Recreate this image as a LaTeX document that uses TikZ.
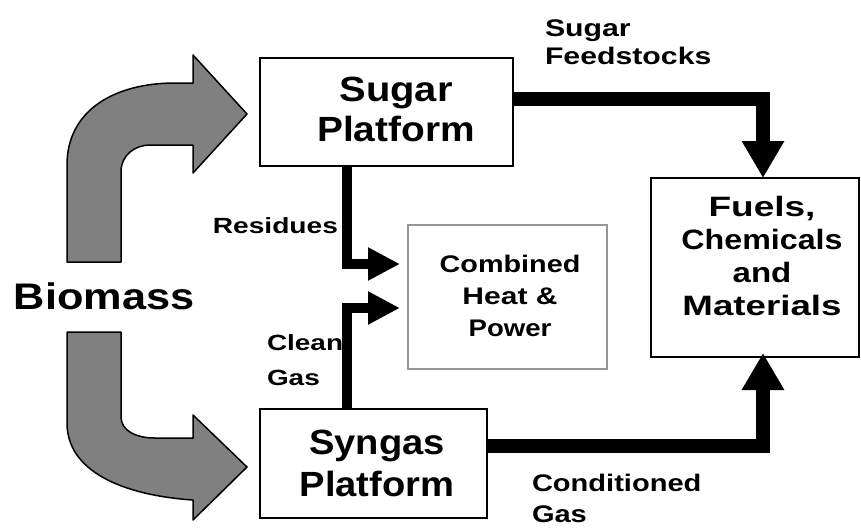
\documentclass[tikz,border=0pt]{standalone}
\usepackage{fontspec}
\setmainfont{Liberation Sans}
\usetikzlibrary{arrows.meta}
\newcommand\myws[2]{\scalebox{#1}[1]{#2}}
\definecolor{arrowgray}{RGB}{128,128,128}
\definecolor{chpgray}{RGB}{150,150,150}
\begin{document}
\begin{tikzpicture}[x=1pt,y=-1pt,
  box/.style={draw=black, line width=1.5pt, fill=white, inner sep=0pt, outer sep=0pt},
  chpbox/.style={draw=chpgray, line width=1.5pt, fill=white, inner sep=0pt, outer sep=0pt},
  txt/.style={inner sep=0pt, outer sep=0pt, align=center},
  ltxt/.style={inner sep=0pt, outer sep=0pt, align=left},
  curvearrow/.style={fill=arrowgray, draw=black, line width=1.5pt, line join=round},
  bigarrow/.style={line width=14pt, line join=miter, -{Triangle[length=37pt 0 0, width=40pt 0 0]}},
  midarrow/.style={line width=10pt, line join=miter, -{Triangle[length=32pt 0 0, width=31pt 0 0]}}
]
\useasboundingbox (0,0) rectangle (861,528);

% boxes
\node[box, minimum width=253pt, minimum height=108pt] (sugar) at (386.5,112) {};
\node[box, minimum width=227pt, minimum height=109pt] (syngas) at (373.5,463.5) {};
\node[chpbox, minimum width=199pt, minimum height=144pt] (chp) at (507.5,297) {};
\node[box, minimum width=208pt, minimum height=179pt] (fuels) at (755,267.5) {};

% box texts
\node[txt, font=\fontsize{35}{40}\selectfont\bfseries] (sugartxt) at (396,109)
  {\myws{1.14}{Sugar}\hspace{12pt}\\\myws{1.11}{Platform}};
\node[txt, font=\fontsize{35}{42}\selectfont\bfseries] (syngastxt) at (377,463)
  {\myws{1.09}{Syngas}\\\myws{1.09}{Platform}};
\node[txt, font=\fontsize{24}{32}\selectfont\bfseries] (chptxt) at (510,296)
  {\myws{1.2}{Combined}\\\myws{1.25}{Heat \&}\\\myws{1.15}{Power}};
\node[txt, font=\fontsize{28}{33}\selectfont\bfseries] (fuelstxt) at (762,256)
  {\myws{1.32}{Fuels,}\\\myws{1.15}{Chemicals}\\\myws{1.18}{and}\\\myws{1.31}{Materials}};

% Biomass
\node[txt, font=\fontsize{37}{40}\selectfont\bfseries] (biomass) at (104,296) {\myws{1.17}{Biomass}};

% curved gray arrows
\path[curvearrow] (67,262) -- (67,165) .. controls (67,110) and (115,83) .. (175,83)
  -- (193,83) -- (193,55) -- (247,114) -- (193,173) -- (193,145) -- (150,145)
  .. controls (135,145) and (121,155) .. (121,172) -- (121,262) -- cycle;
\path[curvearrow] (67,332) -- (121,332) -- (121,417) .. controls (121,430) and (135,438) .. (155,438)
  -- (193,438) -- (193,415) -- (247,467) -- (193,520) -- (193,500)
  .. controls (120,495) and (67,470) .. (67,423) -- cycle;

% labels
\node[txt, anchor=east, font=\fontsize{22}{30}\selectfont\bfseries] (residues) at (338,225.5) {\myws{1.28}{Residues}};
\node[ltxt, anchor=west, font=\fontsize{22}{35}\selectfont\bfseries] (cleangas) at (267,360) {\myws{1.27}{Clean}\\\myws{1.27}{Gas}};
\node[ltxt, anchor=west, font=\fontsize{24}{28}\selectfont\bfseries] (sugarfeed) at (545,42.5) {\myws{1.26}{Sugar}\\\myws{1.26}{Feedstocks}};
\node[ltxt, anchor=west, font=\fontsize{24}{31}\selectfont\bfseries] (condgas) at (532,498) {\myws{1.21}{Conditioned}\\\myws{1.21}{Gas}};

% black connectors
\coordinate (c1) at (763,99);
\coordinate (c2) at (763,446);
\coordinate (c3) at (347,264);
\coordinate (c4) at (347,308);
\draw[bigarrow] (sugar.east |- c1) -- (c1) -- (c1 |- fuels.north);
\draw[bigarrow, shorten >=-4pt] (syngas.east |- c2) -- (c2) -- (c2 |- fuels.south);
\draw[midarrow, shorten >=8pt] (c3 |- sugar.south) -- (c3) -- (c3 -| chp.west);
\draw[midarrow, shorten >=8pt] (c4 |- syngas.north) -- (c4) -- (c4 -| chp.west);
\end{tikzpicture}
\end{document}
